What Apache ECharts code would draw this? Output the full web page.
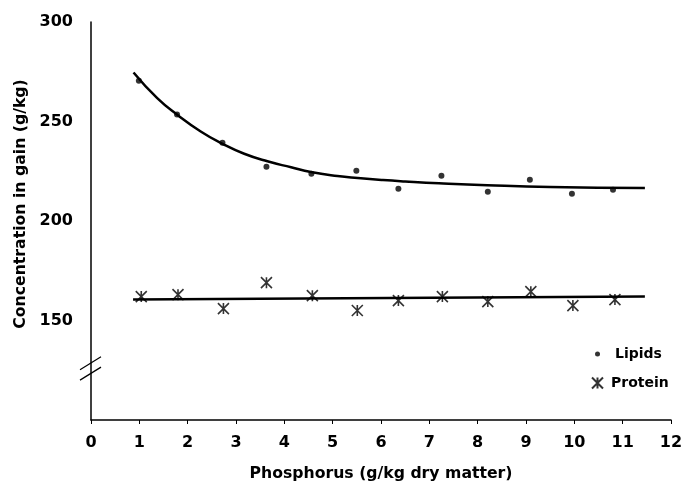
<!DOCTYPE html>
<html>
<head>
<meta charset="utf-8">
<script src="https://cdn.jsdelivr.net/npm/echarts@6/dist/echarts.min.js"></script>
<style>
  html, body { margin: 0; padding: 0; background: #fff; }
  #chart { width: 696px; height: 487px; }
</style>
</head>
<body>
<div id="chart"></div>
<script>
// 数据
var lipidX = [0.99, 1.78, 2.72, 3.63, 4.56, 5.49, 6.36, 7.25, 8.21, 9.08, 9.95, 10.8]
var lipidY = [270.5, 253.5, 239.3, 227.2, 223.7, 225.2, 216.2, 222.7, 214.7, 220.7, 213.7, 215.7]
var proteinX = [1.04, 1.8, 2.74, 3.63, 4.58, 5.51, 6.36, 7.27, 8.21, 9.1, 9.97, 10.84]
var proteinY = [162.0, 163.0, 156.0, 169.0, 162.5, 155.0, 160.0, 162.0, 159.5, 164.5, 157.5, 160.5]
// 拟合曲线，沿线读取的点
var lipidCurveX = [0.88, 1.37, 1.79, 2.27, 2.72, 3.17, 3.65, 4.14, 4.55, 5.1, 5.52, 6.04, 6.5, 7.2, 8.2, 9.5, 11.46]
var lipidCurveY = [274.6, 261.7, 253.3, 245.0, 238.8, 233.8, 230.0, 227.0, 224.6, 222.6, 221.6, 220.6, 219.9, 219.0, 218.0, 217.1, 216.6]
var proteinLineX = [0.87, 11.46]
var proteinLineY = [160.5, 162.0]
var yTicks = [100, 150, 200, 250, 300]

var font = 'DejaVu Sans'
var starIcon = 'path://M0,0L10,10M10,0L0,10M5,0L5,10'

function pairs(xs, ys) {
	return xs.map(function (x, i) { return [x, ys[i]] })
}

var chart = echarts.init(document.getElementById('chart'), null, { renderer: 'canvas' })

var option = {}
option.animation = false
option.backgroundColor = '#fff'

option.grid = {
	left: 91,
	right: 25,
	top: 22,
	bottom: 66
}

option.legend = [{
	data: [{ name: 'Lipids', icon: 'circle' }],
	orient: 'vertical',
	left: 595,
	top: 347,
	padding: 0,
	itemWidth: 5,
	itemHeight: 5,
	textStyle: { fontFamily: font, fontWeight: 'bold', fontSize: 14, color: '#000', padding: [0, 0, 0, 10] }
}, {
	data: [{ name: 'Protein', icon: starIcon }],
	orient: 'vertical',
	left: 591,
	top: 376,
	padding: 0,
	itemWidth: 11,
	itemHeight: 11,
	textStyle: { fontFamily: font, fontWeight: 'bold', fontSize: 14, color: '#000', padding: [0, 0, 0, 3] }
}]

option.xAxis = {
	type: 'value',
	min: 0,
	max: 12,
	interval: 1,
	name: 'Phosphorus (g/kg dry matter)',
	nameLocation: 'middle',
	nameGap: 46,
	nameTextStyle: { fontFamily: font, fontWeight: 'bold', fontSize: 15.7, color: '#000' },
	axisLine: { lineStyle: { color: '#000', width: 1.5 } },
	axisTick: { show: true, inside: false, length: 4, lineStyle: { color: '#000' } },
	axisLabel: { margin: 15, fontFamily: font, fontWeight: 'bold', fontSize: 16, color: '#000' },
	splitLine: { show: false }
}

option.yAxis = {
	type: 'value',
	min: yTicks[0],
	max: yTicks[yTicks.length - 1],
	interval: 50,
	name: 'Concentration in gain (g/kg)',
	nameLocation: 'middle',
	nameGap: 57,
	nameTextStyle: {
		fontFamily: font, fontWeight: 'bold', fontSize: 15.7, color: '#000',
		padding: [0, 0, 0, 34]
	},
	axisLine: { lineStyle: { color: '#000', width: 1.5 } },
	axisTick: { show: false },
	axisLabel: {
		margin: 18,
		fontFamily: font, fontWeight: 'bold', fontSize: 16, color: '#000',
		formatter: function (v) { return v === yTicks[0] ? '' : v }
	},
	splitLine: { show: false }
}

option.series = [{
	name: 'Lipids',
	type: 'scatter',
	symbol: 'circle',
	symbolSize: 6,
	itemStyle: { color: '#000' },
	data: pairs(lipidX, lipidY),
	z: 3
}, {
	name: 'Protein',
	type: 'scatter',
	symbol: starIcon,
	symbolSize: 11,
	itemStyle: { color: '#000', borderColor: '#000', borderWidth: 1.6 },
	data: pairs(proteinX, proteinY),
	z: 3
}, {
	name: 'lipidFit',
	type: 'line',
	smooth: true,
	showSymbol: false,
	lineStyle: { color: '#000', width: 2.5 },
	data: pairs(lipidCurveX, lipidCurveY),
	z: 2
}, {
	name: 'proteinFit',
	type: 'line',
	showSymbol: false,
	lineStyle: { color: '#000', width: 2.5 },
	data: pairs(proteinLineX, proteinLineY),
	z: 2
}]

chart.setOption(option)

// y轴断裂标记
var breaks = [128.5, 123.3]
var x0 = chart.convertToPixel({ xAxisIndex: 0 }, 0) - 1
chart.setOption({
	graphic: breaks.map(function (v) {
		var y = chart.convertToPixel({ yAxisIndex: 0 }, v)
		return {
			type: 'line',
			shape: { x1: x0 - 10, y1: y + 6.5, x2: x0 + 11, y2: y - 6.5 },
			style: { stroke: '#000', lineWidth: 1.2 },
			z: 10
		}
	})
})
</script>
</body>
</html>
